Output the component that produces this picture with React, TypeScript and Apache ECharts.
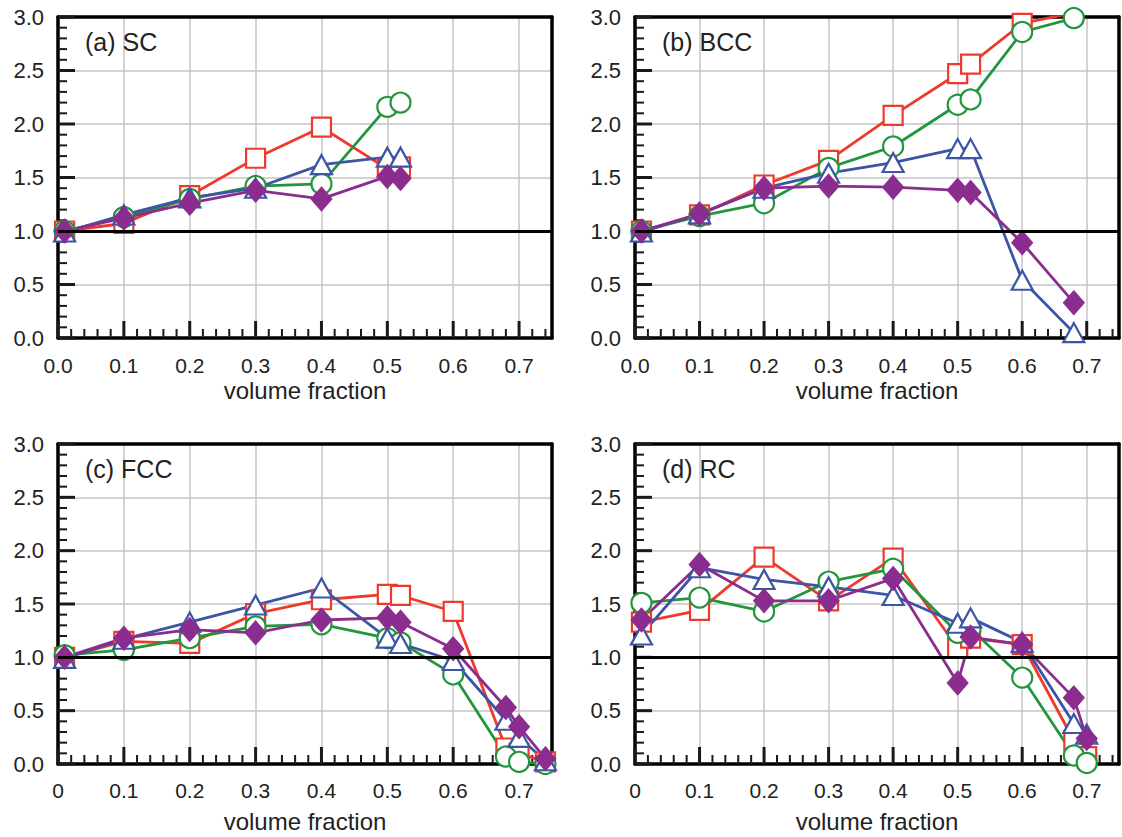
import React, { useEffect, useRef } from "react";
import * as echarts from "echarts";

// ---------- data ----------
const xSC = [0.01, 0.1, 0.2, 0.3, 0.4, 0.5, 0.52];
const scSquare = [1.0, 1.07, 1.33, 1.68, 1.97, 1.58, 1.6];
const scCircle = [1.0, 1.13, 1.3, 1.42, 1.44, 2.16, 2.2];
const scTriangle = [0.99, 1.15, 1.31, 1.4, 1.62, 1.69, 1.69];
const scDiamond = [1.0, 1.12, 1.26, 1.38, 1.3, 1.51, 1.49];

const xBCC = [0.01, 0.1, 0.2, 0.3, 0.4, 0.5, 0.52, 0.6, 0.68];
const bccSquare = [1.0, 1.15, 1.43, 1.66, 2.08, 2.47, 2.56, 2.94, 3.04];
const bccCircle = [1.0, 1.14, 1.26, 1.59, 1.79, 2.18, 2.23, 2.86, 2.99];
const bccTriangle = [0.99, 1.16, 1.4, 1.54, 1.64, 1.77, 1.77, 0.54, 0.05];
const bccDiamond = [1.0, 1.16, 1.4, 1.42, 1.41, 1.38, 1.36, 0.89, 0.33];

const xFCC = [0.01, 0.1, 0.2, 0.3, 0.4, 0.5, 0.52, 0.6, 0.68, 0.7, 0.74];
const fccSquare = [1.0, 1.15, 1.13, 1.41, 1.54, 1.59, 1.58, 1.43, 0.15, 0.1, 0.02];
const fccCircle = [1.02, 1.07, 1.18, 1.29, 1.31, 1.18, 1.14, 0.84, 0.07, 0.02, 0.0];
const fccTriangle = [0.99, 1.17, 1.33, 1.49, 1.65, 1.18, 1.13, 0.97, 0.41, 0.25, 0.03];
const fccDiamond = [1.0, 1.18, 1.26, 1.23, 1.35, 1.37, 1.33, 1.08, 0.53, 0.35, 0.05];

const xRC = [0.01, 0.1, 0.2, 0.3, 0.4, 0.5, 0.52, 0.6, 0.68, 0.7];
const rcSquare = [1.33, 1.44, 1.94, 1.53, 1.93, 1.09, 1.18, 1.12, 0.22, 0.07];
const rcCircle = [1.51, 1.56, 1.43, 1.71, 1.83, 1.23, 1.27, 0.81, 0.08, 0.01];
const rcTriangle = [1.21, 1.84, 1.73, 1.66, 1.58, 1.32, 1.37, 1.14, 0.38, 0.28];
const rcDiamond = [1.35, 1.87, 1.53, 1.53, 1.74, 0.76, 1.19, 1.12, 0.62, 0.24];

const panelLabels = ["(a) SC", "(b) BCC", "(c) FCC", "(d) RC"];
const xTickLabelsTop = ["0.0", "0.1", "0.2", "0.3", "0.4", "0.5", "0.6", "0.7"];
const xTickLabelsBottom = ["0", "0.1", "0.2", "0.3", "0.4", "0.5", "0.6", "0.7"];
const xTitle = "volume fraction";
const referenceLevel = 1;

// axis extents / tick steps
const X_MAX = 0.75;
const X_MAJOR = 0.1;
const X_MINOR_PER_MAJOR = 5;
const Y_MAX = 3;
const Y_MAJOR = 0.5;
const Y_MINOR_PER_MAJOR = 5;

// ---------- style ----------
const FONT = "'Liberation Sans', Arial, Helvetica, sans-serif";
const TEXT = "#222";
const GRIDLINE = "#c4c4c4";
const TICK = "#1a1a1a";
const C_SQ = "#ee3a2c";
const C_CI = "#22963c";
const C_TR = "#3c55a5";
const C_DI = "#8a2d8f";
const LW = 2.8;

const grids = [
  { left: 58, top: 17, width: 494, height: 321 },
  { left: 635, top: 17, width: 494, height: 321 },
  { left: 58, top: 444, width: 494, height: 320 },
  { left: 635, top: 444, width: 494, height: 320 },
];

const panels = [
  { x: xSC, sq: scSquare, ci: scCircle, tr: scTriangle, di: scDiamond },
  { x: xBCC, sq: bccSquare, ci: bccCircle, tr: bccTriangle, di: bccDiamond },
  { x: xFCC, sq: fccSquare, ci: fccCircle, tr: fccTriangle, di: fccDiamond },
  { x: xRC, sq: rcSquare, ci: rcCircle, tr: rcTriangle, di: rcDiamond },
];

function zip(xs: number[], ys: number[]) {
  return xs.map((x, i) => [x, ys[i]]);
}

// tick marks: [x, y, axis(0=x,1=y), major(1/0)]
function tickData() {
  const out: number[][] = [];
  const xStep = X_MAJOR / X_MINOR_PER_MAJOR;
  const nx = Math.floor(X_MAX / xStep + 1e-6);
  for (let k = 0; k <= nx; k++) {
    const v = +(k * xStep).toFixed(4);
    out.push([v, 0, 0, k % X_MINOR_PER_MAJOR === 0 ? 1 : 0]);
  }
  const yStep = Y_MAJOR / Y_MINOR_PER_MAJOR;
  const ny = Math.round(Y_MAX / yStep);
  for (let k = 0; k <= ny; k++) {
    const v = +(k * yStep).toFixed(4);
    out.push([0, v, 1, k % Y_MINOR_PER_MAJOR === 0 ? 1 : 0]);
  }
  return out;
}

const FRAME = { show: true, onZero: false, lineStyle: { color: "#000", width: 3.5 } };

function buildOption() {
  const xAxis: any[] = [];
  const yAxis: any[] = [];
  const series: any[] = [];
  const title: any[] = [];
  const ticks = tickData();

  panels.forEach((p, i) => {
    const bottomRow = i >= 2;
    const labels = bottomRow ? xTickLabelsBottom : xTickLabelsTop;
    xAxis.push({
      gridIndex: i,
      type: "value",
      min: 0,
      max: X_MAX,
      interval: X_MAJOR,
      position: "bottom",
      axisLine: FRAME,
      axisTick: { show: false },
      axisLabel: {
        margin: bottomRow ? 16 : 17,
        fontSize: 21,
        color: TEXT,
        fontFamily: FONT,
        formatter: (v: number) => {
          const k = Math.round(v * 10);
          if (Math.abs(v - k / 10) > 1e-6) return "";
          return labels[k] ?? "";
        },
      },
      splitLine: { show: true, lineStyle: { color: GRIDLINE, width: 1.5 } },
      name: xTitle,
      nameLocation: "middle",
      nameGap: bottomRow ? 45 : 40,
      nameTextStyle: { fontSize: 24, color: TEXT, fontFamily: FONT },
    });
    xAxis.push({
      gridIndex: i,
      type: "value",
      min: 0,
      max: X_MAX,
      position: "top",
      axisLine: FRAME,
      axisTick: { show: false },
      axisLabel: { show: false },
      splitLine: { show: false },
    });
    yAxis.push({
      gridIndex: i,
      type: "value",
      min: 0,
      max: Y_MAX,
      interval: Y_MAJOR,
      position: "left",
      axisLine: FRAME,
      axisTick: { show: false },
      axisLabel: {
        margin: 14,
        fontSize: 22,
        color: TEXT,
        fontFamily: FONT,
        formatter: (v: number) => v.toFixed(1),
      },
      splitLine: { show: true, lineStyle: { color: GRIDLINE, width: 1.5 } },
    });
    yAxis.push({
      gridIndex: i,
      type: "value",
      min: 0,
      max: Y_MAX,
      position: "right",
      axisLine: FRAME,
      axisTick: { show: false },
      axisLabel: { show: false },
      splitLine: { show: false },
    });

    const g = grids[i];
    title.push({
      text: panelLabels[i],
      left: g.left + 27,
      top: g.top + 12,
      padding: 0,
      textStyle: { fontSize: 25, fontWeight: "normal", color: TEXT, fontFamily: FONT },
    });

    const common = {
      type: "line",
      xAxisIndex: 2 * i,
      yAxisIndex: 2 * i,
      clip: true,
      symbolKeepAspect: true,
    };

    // inside tick marks placed through the axes' scales
    series.push({
      type: "custom",
      xAxisIndex: 2 * i,
      yAxisIndex: 2 * i,
      silent: true,
      clip: false,
      z: 1,
      data: ticks,
      encode: { x: 0, y: 1 },
      renderItem: (params: any, api: any) => {
        const pt = api.coord([api.value(0), api.value(1)]);
        const isY = api.value(2) === 1;
        const major = api.value(3) === 1;
        const len = major ? 17 : 9;
        return {
          type: "line",
          shape: isY
            ? { x1: pt[0], y1: pt[1], x2: pt[0] + len, y2: pt[1] }
            : { x1: pt[0], y1: pt[1], x2: pt[0], y2: pt[1] - len },
          style: { stroke: TICK, lineWidth: major ? 3 : 2 },
        };
      },
    });

    series.push({
      ...common,
      name: "square",
      data: zip(p.x, p.sq),
      symbol: "rect",
      symbolSize: 19,
      lineStyle: { color: C_SQ, width: LW },
      itemStyle: { color: "#fff", borderColor: C_SQ, borderWidth: 2.2 },
      markLine: {
        silent: true,
        symbol: "none",
        label: { show: false },
        lineStyle: { color: "#000", width: 3, type: "solid" },
        data: [{ yAxis: referenceLevel }],
      },
    });
    series.push({
      ...common,
      name: "circle",
      data: zip(p.x, p.ci),
      symbol: "circle",
      symbolSize: 20,
      lineStyle: { color: C_CI, width: LW },
      itemStyle: { color: "#fff", borderColor: C_CI, borderWidth: 2.2 },
    });
    series.push({
      ...common,
      name: "triangle",
      data: zip(p.x, p.tr),
      symbol: "triangle",
      symbolSize: [21, 19],
      lineStyle: { color: C_TR, width: LW },
      itemStyle: { color: "#fff", borderColor: C_TR, borderWidth: 2.2 },
    });
    series.push({
      ...common,
      name: "diamond",
      data: zip(p.x, p.di),
      symbol: "diamond",
      symbolSize: [21, 24],
      lineStyle: { color: C_DI, width: LW },
      itemStyle: { color: C_DI, borderColor: C_DI, borderWidth: 1 },
    });
  });

  return {
    animation: false,
    backgroundColor: "#fff",
    textStyle: { fontFamily: FONT },
    title,
    grid: grids.map((g) => ({ ...g, show: false })),
    xAxis,
    yAxis,
    series,
  };
}

export default function App() {
  const ref = useRef<HTMLDivElement>(null);
  useEffect(() => {
    if (!ref.current) return;
    document.body.style.margin = "0";
    document.body.style.overflow = "hidden";
    const chart = echarts.init(ref.current, undefined, { renderer: "svg" });
    chart.setOption(buildOption() as any);
    return () => chart.dispose();
  }, []);
  return (
    <div
      ref={ref}
      style={{ position: "fixed", left: 0, top: 0, width: 1122, height: 837, background: "#fff" }}
    />
  );
}
